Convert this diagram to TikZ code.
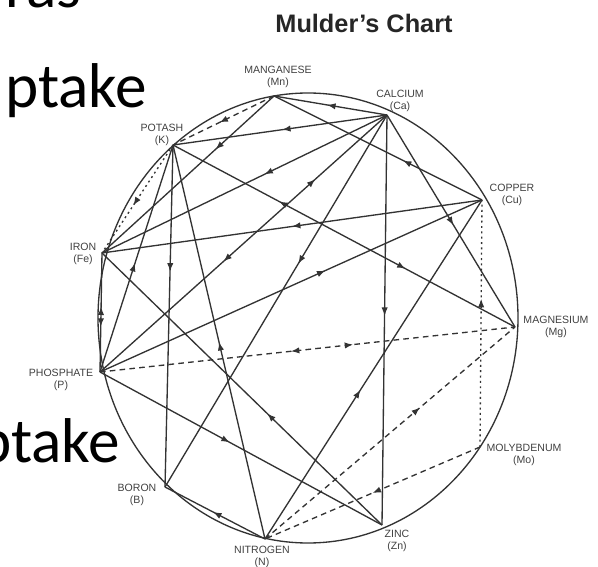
\documentclass[tikz,border=0pt]{standalone}
\usepackage{fontspec}
\setmainfont{Liberation Sans}
\newfontfamily\slidefont{Carlito}
\usetikzlibrary{arrows.meta,decorations.markings}

\begin{document}
\begin{tikzpicture}[x=0.25mm,y=-0.25mm,
  link/.style={draw=black!80,line width=0.95pt},
  dashlink/.style={link,dash pattern=on 4pt off 3pt},
  dotlink/.style={link,dash pattern=on 1.4pt off 2.4pt},
  fwd/.style={postaction={decorate,decoration={markings,
      mark=at position #1 with {\arrow{Latex[length=6pt,width=4.5pt]}}}}},
  bwd/.style={postaction={decorate,decoration={markings,
      mark=at position #1 with {\arrowreversed{Latex[length=6pt,width=4.5pt]}}}}},
  elem/.style={font=\fontsize{7.5}{9}\selectfont,text=black!75,align=center,inner sep=0pt},
  slide/.style={font=\slidefont\fontsize{45}{50}\selectfont,inner sep=0pt,anchor=base west}]
  \useasboundingbox (0,0) rectangle (598,567);
  \clip (0,0) rectangle (598,567);

  % slide text left of the chart
  \node[slide] (line1) at (5,8) {ras};
  \node[slide] (line2) at (5,108) {ptake};
  \node[slide] (line3) at (-22,462) {ptake};

  \node[font=\bfseries\fontsize{18}{20}\selectfont,text=black!85] (title) at (364,23) {Mulder’s Chart};

  % the wheel
  \draw[link] (308,318) ellipse [x radius=210, y radius=225];

  \coordinate (mn) at (274,96);
  \coordinate (ca) at (387,115);
  \coordinate (k)  at (173,145);
  \coordinate (cu) at (482,200);
  \coordinate (fe) at (102,253);
  \coordinate (p)  at (100,372);
  \coordinate (mg) at (515,327);
  \coordinate (mo) at (480,447);
  \coordinate (zn) at (382,525);
  \coordinate (n)  at (265,539);
  \coordinate (b)  at (165,487);

  \node[elem] (mnlab) at (278,77)  {MANGANESE\\(Mn)};
  \node[elem] (calab) at (400,101) {CALCIUM\\(Ca)};
  \node[elem] (klab)  at (162,135) {POTASH\\(K)};
  \node[elem] (culab) at (512,195) {COPPER\\(Cu)};
  \node[elem] (felab) at (83,254)  {IRON\\(Fe)};
  \node[elem] (plab)  at (61,380)  {PHOSPHATE\\(P)};
  \node[elem] (mglab) at (556,327) {MAGNESIUM\\(Mg)};
  \node[elem] (molab) at (524,455) {MOLYBDENUM\\(Mo)};
  \node[elem] (blab)  at (137,495) {BORON\\(B)};
  \node[elem] (nlab)  at (262,557) {NITROGEN\\(N)};
  \node[elem] (znlab) at (397,541) {ZINC\\(Zn)};

  % antagonism
  \draw[link,fwd=0.53] (ca) -- (mn);
  \draw[link,fwd=0.49] (ca) -- (k);
  \draw[link,fwd=0.43] (ca) -- (fe);
  \draw[link,bwd=0.25,fwd=0.57] (ca) -- (p);
  \draw[link,fwd=0.4] (ca) -- (b);
  \draw[link,fwd=0.49] (ca) -- (zn);
  \draw[link,fwd=0.52] (ca) -- (mg);
  \draw[link,fwd=0.34] (mn) -- (fe);
  \draw[link,fwd=0.38] (cu) -- (mn);
  \draw[link,bwd=0.31,fwd=0.68] (k) -- (mg);
  \draw[link,fwd=0.48] (p) -- (k);
  \draw[link,fwd=0.37] (k) -- (b);
  \draw[link,fwd=0.5] (n) -- (k);
  \draw[link,fwd=0.5] (cu) -- (fe);
  \draw[link,fwd=0.59] (p) -- (cu);
  \draw[link,fwd=0.44] (n) -- (cu);
  \draw[link,fwd=0.41] (zn) -- (fe);
  \draw[link,bwd=0.45,fwd=0.62] (fe) -- (p);
  \draw[link,fwd=0.46] (p) -- (zn);
  \draw[link,fwd=0.52] (n) -- (b);

  % stimulation
  \draw[dashlink,fwd=0.54] (mn) -- (k);
  \draw[dotlink,fwd=0.56] (k) -- (fe);
  \draw[dashlink,bwd=0.46,fwd=0.61] (p) -- (mg);
  \draw[dashlink,fwd=0.62] (n) -- (mg);
  \draw[dashlink,fwd=0.5] (mo) -- (n);
  \draw[dotlink,fwd=0.6] (mo) -- (cu);
\end{tikzpicture}
\end{document}
